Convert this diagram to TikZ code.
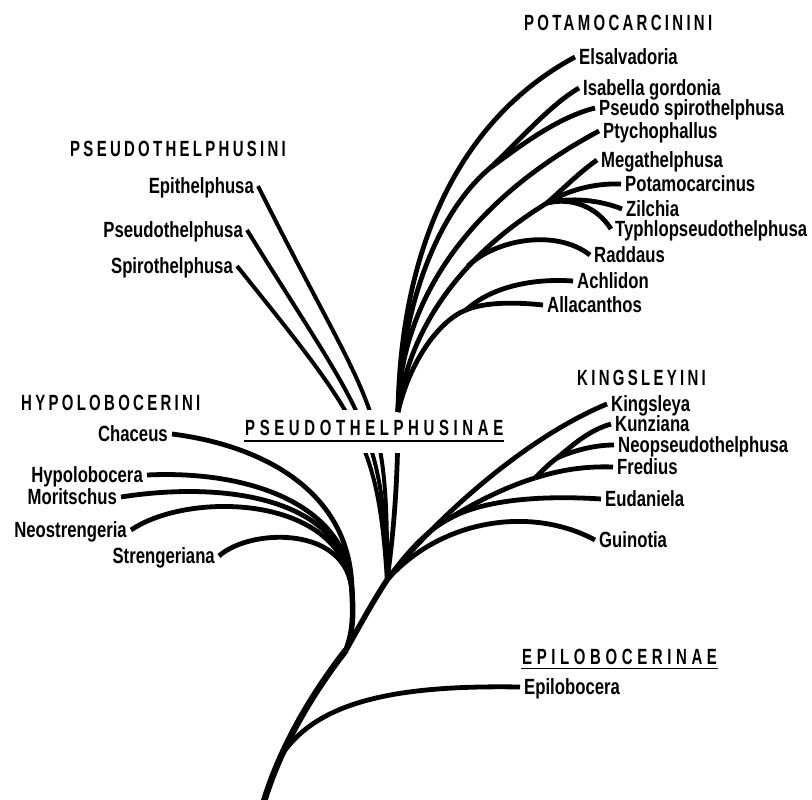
\documentclass[tikz,border=0pt]{standalone}
\usepackage{fontspec}
\newfontfamily\taxonfont{Liberation Sans}[FakeStretch=0.76]
\newfontfamily\rankfont{Liberation Sans}[FakeStretch=0.68,LetterSpace=15]
\newfontfamily\subfamfont{Liberation Sans}[FakeStretch=0.68,LetterSpace=21]
\usetikzlibrary{positioning}
\tikzset{branch/.style={line width=4.8pt},
	 twig/.style={line width=4pt},
	 stem/.style={line width=6.5pt},
	 taxon/.style={font=\taxonfont\bfseries\fontsize{22}{26}\selectfont,inner xsep=4pt,inner ysep=0pt,text height=15pt,text depth=0pt},
	 rank/.style={font=\rankfont\bfseries\fontsize{22}{26}\selectfont,inner sep=0pt,anchor=west,text height=15pt,text depth=0pt},
	 subfam/.style={font=\subfamfont\bfseries\fontsize{22}{26}\selectfont,inner xsep=1pt,inner ysep=0pt,anchor=base west},
	 rule/.style={line width=1.6pt}
	 }

\begin{document}
\begin{tikzpicture}[x=1pt,y=-1pt]
	\useasboundingbox (0,0) rectangle (812,800);
	% junctions
	\coordinate (root) at (262,808);
	\coordinate (jE) at (283,753);
	\coordinate (jT) at (346,650);
	\coordinate (jH) at (352,592);
	\coordinate (jM) at (387,580);
	\coordinate (jP) at (398,412);
	\coordinate (jIs) at (490,168);
	\coordinate (jF) at (547,203);
	\coordinate (jR) at (468,266);
	\coordinate (jA) at (466,310);
	\coordinate (jK3) at (447,520);
	\coordinate (jK2) at (535,478);
	\coordinate (jK1) at (557,458);
	% tribes
	\node[rank] (tpot) at (524,23) {POTAMOCARCININI};
	\node[rank] (tpse) at (70,149) {PSEUDOTHELPHUSINI};
	\node[rank] (thyp) at (21,403) {HYPOLOBOCERINI};
	\node[rank] (tkin) at (577,378) {KINGSLEYINI};
	% genera
	\node[taxon,anchor=west] (elsal) at (575,57) {Elsalvadoria};
	\node[taxon,anchor=west] (isab) at (579,88) {Isabella gordonia};
	\node[taxon,anchor=west] (pspiro) at (595,108) {Pseudo spirothelphusa};
	\node[taxon,anchor=west] (ptych) at (599,131) {Ptychophallus};
	\node[taxon,anchor=west] (mega) at (597,160) {Megathelphusa};
	\node[taxon,anchor=west] (potam) at (621,184) {Potamocarcinus};
	\node[taxon,anchor=west] (zilch) at (622,209) {Zilchia};
	\node[taxon,anchor=west] (typhl) at (611,229) {Typhlopseudothelphusa};
	\node[taxon,anchor=west] (radd) at (590,255) {Raddaus};
	\node[taxon,anchor=west] (achl) at (573,281) {Achlidon};
	\node[taxon,anchor=west] (allac) at (543,305) {Allacanthos};
	\node[taxon,anchor=west] (kings) at (607,404) {Kingsleya};
	\node[taxon,anchor=west] (kunz) at (611,424) {Kunziana};
	\node[taxon,anchor=west] (neops) at (614,445) {Neopseudothelphusa};
	\node[taxon,anchor=west] (fred) at (613,467) {Fredius};
	\node[taxon,anchor=west] (eudan) at (601,499) {Eudaniela};
	\node[taxon,anchor=west] (guin) at (595,540) {Guinotia};
	\node[taxon,anchor=west] (epilo) at (520,687) {Epilobocera};
	\node[taxon,anchor=east] (epith) at (258,186) {Epithelphusa};
	\node[taxon,anchor=east] (pseud) at (247,230) {Pseudothelphusa};
	\node[taxon,anchor=east] (spiro) at (237,266) {Spirothelphusa};
	\node[taxon,anchor=east] (chac) at (172,434) {Chaceus};
	\node[taxon,anchor=east] (hypol) at (147,475) {Hypolobocera};
	\node[taxon,anchor=east] (morit) at (121,497) {Moritschus};
	\node[taxon,anchor=east] (neost) at (131,530) {Neostrengeria};
	\node[taxon,anchor=east] (streng) at (219,556) {Strengeriana};
	% strands behind the subfamily name
	\draw[twig] (epith.east) .. controls (373,416) and (388,397) .. (jM);
	\draw[twig] (pseud.east) .. controls (360,413) and (384,425) .. (jM);
	\draw[twig] (spiro.east) .. controls (359,418) and (378,440) .. (jM);
	\draw[branch] (jM) .. controls (394,530) and (398,480) .. (jP);
	\node[subfam,fill=white,text height=25pt,text depth=18pt] (sfpse) at (244,435) {PSEUDOTHELPHUSINAE};
	\draw[rule] ([yshift=-6pt]sfpse.base west) -- ([yshift=-6pt]sfpse.base east);
	\node[subfam] (sfepi) at (521,664) {EPILOBOCERINAE};
	\draw[rule] ([yshift=-4.5pt]sfepi.base west) -- ([yshift=-4.5pt]sfepi.base east);
	% trunk
	\draw[stem] (root) .. controls (280,745) and (315,690) .. (jT);
	\draw[branch,line width=5.5pt] (jT) .. controls (354,630) and (353,610) .. (jH);
	\draw[branch,line width=5.5pt] (jT) .. controls (360,625) and (375,598) .. (jM);
	\draw[branch] (jE) .. controls (320,700) and (400,685) .. (epilo.west);
	% Hypolobocerini
	\draw[branch] (chac.east) .. controls (260,445) and (352,490) .. (jH);
	\draw[branch] (hypol.east) .. controls (250,470) and (350,505) .. (jH);
	\draw[branch] (morit.east) .. controls (230,480) and (348,500) .. (jH);
	\draw[branch] (neost.east) .. controls (190,490) and (345,495) .. (jH);
	\draw[branch] (streng.east) .. controls (250,528) and (348,525) .. (jH);
	% Potamocarcinini
	\draw[branch] (jP) .. controls (400,280) and (440,130) .. (elsal.west);
	\draw[branch] (jP) .. controls (402,300) and (440,210) .. (jIs);
	\draw[branch] (jIs) .. controls (520,140) and (550,105) .. (isab.west);
	\draw[branch] (jIs) .. controls (515,150) and (555,118) .. (pspiro.west);
	\draw[branch] (jP) .. controls (400,300) and (470,200) .. (ptych.west);
	\draw[branch] (jP) .. controls (410,320) and (470,250) .. (jF);
	\draw[branch] (jF) .. controls (565,187) and (580,172) .. (mega.west);
	\draw[branch] (jF) .. controls (565,192) and (590,183) .. (potam.west);
	\draw[branch] (jF) .. controls (570,197) and (600,200) .. (zilch.west);
	\draw[branch] (jF) .. controls (572,197) and (597,207) .. (typhl.west);
	\draw[branch] (jR) .. controls (495,240) and (555,228) .. (radd.west);
	\draw[branch] (jP) .. controls (410,360) and (440,320) .. (jA);
	\draw[branch] (jA) .. controls (490,288) and (530,278) .. (achl.west);
	\draw[branch] (jA) .. controls (485,302) and (515,302) .. (allac.west);
	% Kingsleyini
	\draw[branch] (jM) .. controls (430,525) and (520,440) .. (kings.west);
	\draw[branch] (jM) .. controls (440,520) and (530,505) .. (guin.west);
	\draw[branch] (jM) .. controls (405,555) and (425,532) .. (jK3);
	\draw[branch] (jK3) .. controls (480,500) and (540,495) .. (eudan.west);
	\draw[branch] (jK3) .. controls (470,505) and (505,487) .. (jK2);
	\draw[branch] (jK2) .. controls (560,470) and (585,466) .. (fred.west);
	\draw[branch] (jK2) .. controls (543,470) and (550,463) .. (jK1);
	\draw[branch] (jK1) .. controls (575,443) and (590,430) .. (kunz.west);
	\draw[branch] (jK1) .. controls (575,450) and (595,445) .. (neops.west);
\end{tikzpicture}
\end{document}
